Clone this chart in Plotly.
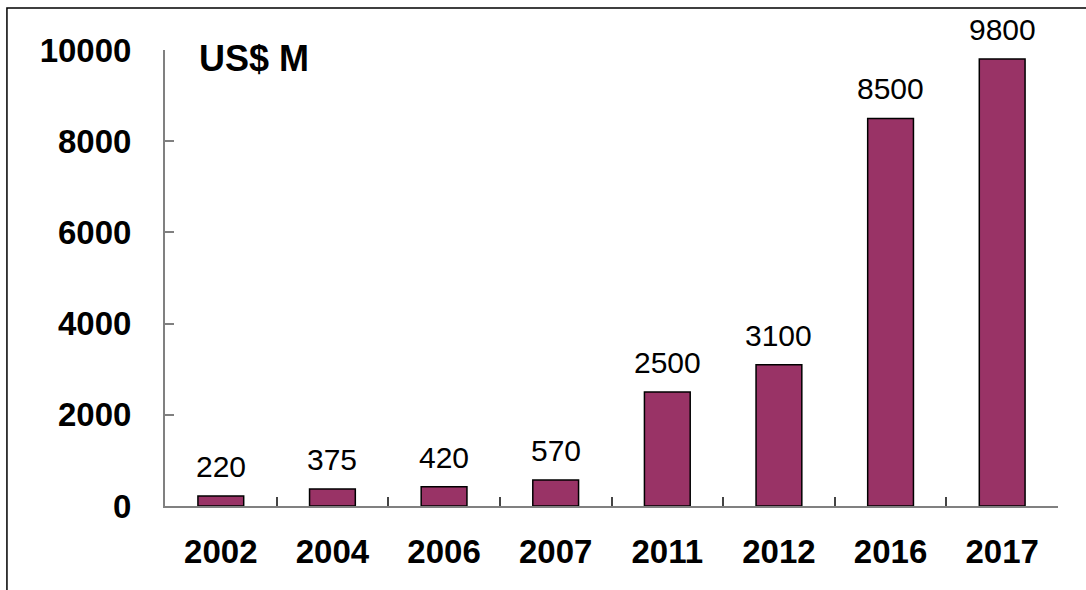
import plotly.graph_objects as go

# Annual values, US$ millions
years = ["2002", "2004", "2006", "2007", "2011", "2012", "2016", "2017"]
values = [220, 375, 420, 570, 2500, 3100, 8500, 9800]
y_ticks = [0, 2000, 4000, 6000, 8000, 10000]
y_tick_text = ["0", "2000", "4000", "6000", "8000", "10000"]

BAR_COLOR = "#993366"
AXIS_COLOR = "#808080"
FONT = "Liberation Sans, Arial, sans-serif"

fig = go.Figure(
    go.Bar(
        x=years,
        y=values,
        marker=dict(color=BAR_COLOR, line=dict(color="black", width=1.5)),
        cliponaxis=False,
    )
)

# Value labels above each bar (category axis: position by index)
for i, v in enumerate(values):
    fig.add_annotation(
        x=i, y=v, text=str(v),
        xanchor="center", yanchor="bottom",
        yshift=11, showarrow=False,
        font=dict(family=FONT, size=30, color="black"),
    )

fig.update_layout(
    width=1086,
    height=590,
    margin=dict(l=165, r=28, t=50, b=84),
    paper_bgcolor="white",
    plot_bgcolor="white",
    bargap=0.59,
    showlegend=False,
    font=dict(family=FONT, color="black"),
)

fig.update_xaxes(
    type="category",
    range=[-0.5, len(years) - 0.5],
    showline=True,
    linecolor=AXIS_COLOR,
    linewidth=2,
    ticks="inside",
    tickson="boundaries",
    ticklen=9,
    tickcolor="#444444",
    tickwidth=1.5,
    tickangle=0,
    tickfont=dict(family=FONT, size=33, color="black", weight="bold"),
    ticklabelstandoff=15,
    showgrid=False,
    zeroline=False,
)

fig.update_yaxes(
    range=[0, 10000],
    tickvals=y_ticks,
    ticktext=y_tick_text,
    showline=True,
    linecolor=AXIS_COLOR,
    linewidth=2,
    ticks="inside",
    ticklen=9,
    tickcolor=AXIS_COLOR,
    tickwidth=1.5,
    tickfont=dict(family=FONT, size=33, color="black", weight="bold"),
    ticklabelstandoff=25,
    showgrid=False,
    zeroline=False,
)

# Unit label in the top-left corner of the plot area
fig.add_annotation(
    text="US$ M",
    xref="paper", yref="paper",
    x=0.036, y=1.03,
    xanchor="left", yanchor="top",
    showarrow=False,
    font=dict(family=FONT, size=36, color="black", weight="bold"),
)

# Outer frame around the chart
fig.add_shape(
    type="rect",
    xref="paper", yref="paper",
    x0=-0.177, x1=1.2, y0=-0.4, y1=1.092,
    line=dict(color="black", width=1.5),
    fillcolor="rgba(0,0,0,0)",
    layer="below",
)

fig.write_html("out.html")
